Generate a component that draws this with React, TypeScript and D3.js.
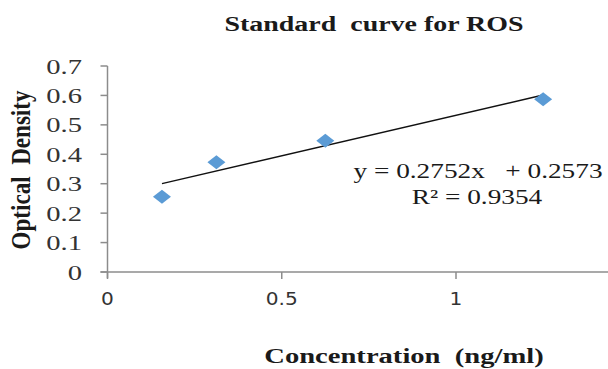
import React, { useRef, useEffect } from 'react'
import * as d3 from 'd3'

// standards (ng/ml) and measured optical density
const concentrations = [0.15625, 0.3125, 0.625, 1.25]
const densities = [0.256, 0.373, 0.446, 0.587]
const xTicks = [0, 0.5, 1]
const yTicks = [0, 0.1, 0.2, 0.3, 0.4, 0.5, 0.6, 0.7]
const slope = 0.2752
const intercept = 0.2573
const rSquared = 0.9354

const W = 608
const H = 369
const SX = 1.3 // source picture is stretched horizontally

export default function App() {
  const ref = useRef<SVGSVGElement | null>(null)

  useEffect(() => {
    const svg = d3.select(ref.current)
    svg.selectAll('*').remove()

    const x = d3.scaleLinear().domain([0, 1]).range([107.5, 456])
    const y = d3.scaleLinear().domain([0, 0.7]).range([272, 66])
    const axisColor = '#8c8c8c'
    const serif = 'Liberation Serif, DejaVu Serif, serif'

    const text = (str: string, tx: number, ty: number, opts: any = {}) =>
      svg.append('text')
        .attr('transform', `translate(${tx},${ty}) ${opts.rotate ? 'rotate(-90) ' : ''}scale(${opts.sx ?? SX},${opts.sy ?? 1})`)
        .attr('text-anchor', opts.anchor ?? 'middle')
        .style('font-family', opts.font ?? serif)
        .style('font-size', (opts.size ?? 20) + 'px')
        .style('font-weight', opts.bold ? 'bold' : 'normal')
        .attr('fill', opts.fill ?? '#1a1a1a')
        .text(str)

    // title
    text('Standard\u00a0\u00a0curve for ROS', 374, 31, { bold: true, size: 21.5 })

    // y axis
    svg.append('line')
      .attr('x1', x(0)).attr('x2', x(0))
      .attr('y1', y(0.7)).attr('y2', y(0) + 6)
      .attr('stroke', axisColor).attr('stroke-width', 1.5)
    yTicks.forEach(t => {
      svg.append('line')
        .attr('x1', x(0) - 7).attr('x2', x(0))
        .attr('y1', y(t)).attr('y2', y(t))
        .attr('stroke', axisColor).attr('stroke-width', 1.5)
      text(t === 0 ? '0' : d3.format('.1f')(t), 82, y(t) + 7.5, { anchor: 'end', size: 22, fill: '#333' })
    })

    // x axis
    svg.append('line')
      .attr('x1', x(0) - 7).attr('x2', W)
      .attr('y1', y(0)).attr('y2', y(0))
      .attr('stroke', axisColor).attr('stroke-width', 1.5)
    xTicks.forEach(t => {
      svg.append('line')
        .attr('x1', x(t)).attr('x2', x(t))
        .attr('y1', y(0)).attr('y2', y(0) + 7)
        .attr('stroke', axisColor).attr('stroke-width', 1.5)
      text(String(t), x(t), 305, { font: 'DejaVu Sans, sans-serif', size: 17.5, sx: 1.15, fill: '#333' })
    })

    // axis titles
    text('Optical\u00a0\u00a0Density', 30, 170, { bold: true, size: 21, rotate: true, sx: 1.1, sy: SX })
    text('Concentration\u00a0\u00a0(ng/ml)', 404, 363, { bold: true, size: 22 })

    // linear trendline over the data range
    const [x0, x1] = d3.extent(concentrations) as [number, number]
    svg.append('path')
      .datum([x0, x1])
      .attr('d', d3.line<number>().x(d => x(d)).y(d => y(slope * d + intercept)))
      .attr('stroke', '#111').attr('stroke-width', 1.5).attr('fill', 'none')

    // diamond markers
    svg.selectAll('path.pt')
      .data(concentrations)
      .enter().append('path')
      .attr('class', 'pt')
      .attr('d', (d, i) => {
        const cx = x(d), cy = y(densities[i])
        return `M${cx - 9},${cy}L${cx},${cy - 7}L${cx + 9},${cy}L${cx},${cy + 7}Z`
      })
      .attr('fill', '#5b9bd5')

    // regression equation
    text(`y = ${slope}x\u00a0\u00a0 + ${intercept}`, 478, 178, { size: 21 })
    text(`R² = ${rSquared}`, 477, 204, { size: 21 })
  }, [])

  return (
    <svg ref={ref} width={W} height={H}
      style={{ position: 'absolute', left: 0, top: 0, background: '#fff' }} />
  )
}
